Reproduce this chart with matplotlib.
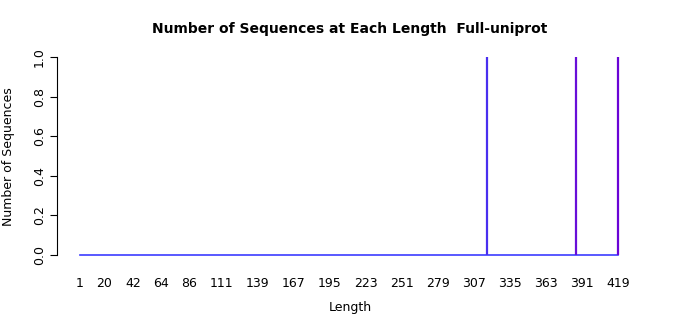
import numpy as np
import matplotlib.pyplot as plt
from matplotlib.colors import LinearSegmentedColormap

# sequence lengths and how many sequences have each length
lengths = np.arange(1, 420)
peak_lengths = [317, 386, 419]
peak_counts = [1, 1, 1]
tick_lengths = [1, 20, 42, 64, 86, 111, 139, 167, 195, 223, 251, 279,
                307, 335, 363, 391, 419]

counts = np.zeros(len(lengths))
for L, c in zip(peak_lengths, peak_counts):
    counts[lengths == L] = c

# blue -> purple ramp along the length axis
cmap = LinearSegmentedColormap.from_list(
    "bp", [(0, "#3c3cff"), (0.75, "#4830f0"), (0.91, "#6810d8"), (1, "#6a04d6")])

fig = plt.figure(figsize=(7, 3.15), dpi=100)
ax = fig.add_axes([57 / 700, 1 - 262 / 315, 586 / 700, 212 / 315])

ax.plot(lengths, np.zeros(len(lengths)), color="#3c3cff", lw=1.2)
norm = plt.Normalize(1, 419)
mask = counts > 0
ax.vlines(lengths[mask], 0, counts[mask],
          colors=cmap(norm(lengths[mask])), lw=1.6)

ax.set_xlim(-16.9, 438.4)
ax.set_ylim(-0.035, 1.035)

for s in ["top", "right", "bottom"]:
    ax.spines[s].set_visible(False)
ax.spines["left"].set_bounds(0, 1)
ax.spines["left"].set_linewidth(0.8)

ax.set_yticks([0, 0.2, 0.4, 0.6, 0.8, 1.0])
ax.set_yticklabels(["0.0", "0.2", "0.4", "0.6", "0.8", "1.0"],
                   rotation=90, va="center", fontsize=9)
ax.tick_params(axis="y", length=5, width=0.8, pad=3)

ax.set_xticks(tick_lengths)
ax.set_xticklabels([str(t) for t in tick_lengths], fontsize=9)
ax.tick_params(axis="x", length=0, pad=11)

# axis titles and main title placed in figure pixels
fig.text(350 / 700, 1 - 307 / 315, "Length", ha="center", va="center", fontsize=9)
fig.text(9 / 700, 1 - 157 / 315, "Number of Sequences", ha="center", va="center",
         rotation=90, fontsize=9)
fig.text(0.5, 1 - 29 / 315, "Number of Sequences at Each Length  Full-uniprot",
         ha="center", va="center", fontsize=10, fontweight="bold")

plt.savefig("out.png", dpi=100)
plt.close()
